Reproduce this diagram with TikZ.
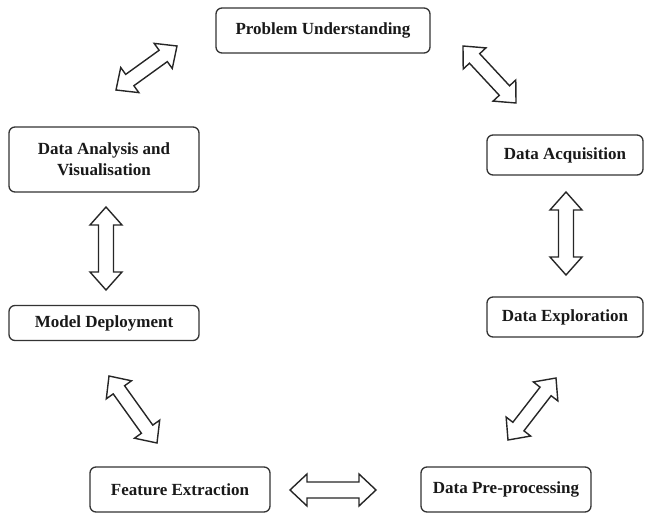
\documentclass[tikz,border=0pt]{standalone}
\usepackage{fontspec}
\setmainfont{Liberation Serif}
\usetikzlibrary{calc}

\tikzset{
  stage/.style={draw=black!80, line width=1.3pt, rounded corners=6pt, align=center, inner sep=0pt, text=black!90, font=\bfseries\fontsize{17}{21}\selectfont},
  twoway/.style n args={3}{draw=black!85, line width=1.4pt, fill=white, line join=miter, to path={
    let \p1=($(\tikztostart)!#1!(\tikztotarget)$), \p2=($(\tikztotarget)!#1!(\tikztostart)$) in
    (\tikztostart) -- ($(\p1)!#2!90:(\tikztotarget)$) -- ($(\p1)!#3!90:(\tikztotarget)$)
    -- ($(\p2)!#3!-90:(\tikztostart)$) -- ($(\p2)!#2!-90:(\tikztostart)$) -- (\tikztotarget)
    -- ($(\p2)!#2!90:(\tikztostart)$) -- ($(\p2)!#3!90:(\tikztostart)$)
    -- ($(\p1)!#3!-90:(\tikztotarget)$) -- ($(\p1)!#2!-90:(\tikztotarget)$) -- cycle}}
}

\begin{document}
\begin{tikzpicture}[x=1pt,y=-1pt]
\useasboundingbox (0,0) rectangle (646,516);

\node[stage, minimum width=214pt, minimum height=45pt] (pu) at (323,30.5) {Problem Understanding};
\node[stage, minimum width=190pt, minimum height=65pt] (dav) at (104,159.5) {Data Analysis and\\Visualisation};
\node[stage, minimum width=156pt, minimum height=40pt] (da) at (565,155) {Data Acquisition};
\node[stage, minimum width=190pt, minimum height=35pt] (md) at (104,323) {Model Deployment};
\node[stage, minimum width=156pt, minimum height=40pt] (de) at (565,317) {Data Exploration};
\node[stage, minimum width=180pt, minimum height=45pt] (fe) at (180,489.5) {Feature Extraction};
\node[stage, minimum width=170pt, minimum height=45pt] (dpp) at (506,489.5) {Data Pre-processing};

\coordinate (dav-pu) at (116,90);  \coordinate (pu-dav) at (177,46);
\coordinate (pu-da) at (463,46);   \coordinate (da-pu) at (516,103);
\coordinate (da-de) at (566,192);  \coordinate (de-da) at (566,275);
\coordinate (de-dpp) at (556,378); \coordinate (dpp-de) at (508,440);
\coordinate (dpp-fe) at (376,490); \coordinate (fe-dpp) at (290,490);
\coordinate (fe-md) at (157,443);  \coordinate (md-fe) at (109,376);
\coordinate (md-dav) at (106,290); \coordinate (dav-md) at (106,207);

\draw[twoway={17pt}{15.5pt}{7pt}] (dav-pu) to (pu-dav);
\draw[twoway={17pt}{15.5pt}{7pt}] (pu-da) to (da-pu);
\draw[twoway={18pt}{16pt}{7.5pt}] (da-de) to (de-da);
\draw[twoway={17pt}{15.5pt}{7pt}] (de-dpp) to (dpp-de);
\draw[twoway={17pt}{16pt}{8pt}] (dpp-fe) to (fe-dpp);
\draw[twoway={17pt}{15.5pt}{7pt}] (fe-md) to (md-fe);
\draw[twoway={18pt}{16pt}{7.5pt}] (md-dav) to (dav-md);

\end{tikzpicture}
\end{document}
